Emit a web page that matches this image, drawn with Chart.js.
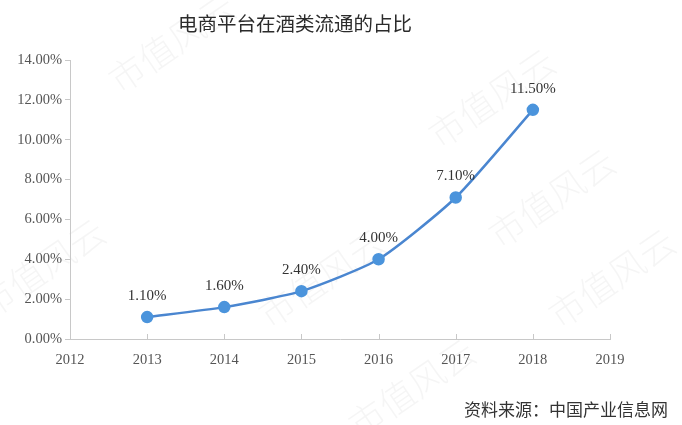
<!DOCTYPE html>
<html lang="zh">
<head>
    <meta charset="UTF-8">
    <title>电商平台在酒类流通的占比</title>
    <script src="https://cdn.jsdelivr.net/npm/chart.js"></script>
    <style>
        html, body { margin: 0; padding: 0; background: #fff; }
        .chart-container { position: relative; width: 682px; height: 425px; }
    </style>
</head>
<body>
    <div class="chart-container">
        <canvas id="shareChart"></canvas>
    </div>

    <script>
        const years = [2013, 2014, 2015, 2016, 2017, 2018];
        const shareValues = [1.1, 1.6, 2.4, 4.0, 7.1, 11.5];
        const titleText = '电商平台在酒类流通的占比';
        const sourceText = '资料来源：中国产业信息网';
        const watermarkText = '市值风云';

        const serif = '"Liberation Serif", "DejaVu Serif", serif';
        const cjk = '"Noto Sans CJK SC", sans-serif';

        // faint diagonal watermark, title and source note
        const decorPlugin = {
            id: 'decor',
            beforeDraw(chart) {
                const ctx = chart.ctx;
                ctx.save();
                ctx.font = '300 36px ' + cjk;
                ctx.fillStyle = 'rgba(0,0,0,0.04)';
                [[120, 95], [440, 150], [-10, 320], [270, 330], [500, 250], [560, 330], [360, 440]].forEach(p => {
                    ctx.save();
                    ctx.translate(p[0], p[1]);
                    ctx.rotate(-0.6);
                    ctx.fillText(watermarkText, 0, 0);
                    ctx.restore();
                });
                ctx.restore();
            },
            afterDraw(chart) {
                const ctx = chart.ctx;
                ctx.save();
                ctx.fillStyle = '#2b2b2b';
                ctx.font = '19.5px ' + cjk;
                ctx.textAlign = 'center';
                ctx.textBaseline = 'middle';
                ctx.fillText(titleText, 295, 24);
                ctx.fillStyle = '#333';
                ctx.font = '17px ' + cjk;
                ctx.textAlign = 'right';
                ctx.fillText(sourceText, 668, 410);

                // inward ticks on the x axis
                const x = chart.scales.x;
                ctx.strokeStyle = '#c8c8c8';
                ctx.lineWidth = 1;
                for (let v = 2013; v <= 2019; v++) {
                    const px = Math.round(x.getPixelForValue(v)) + 0.5;
                    ctx.beginPath();
                    ctx.moveTo(px, x.top);
                    ctx.lineTo(px, x.top - 5);
                    ctx.stroke();
                }

                // value labels above the points
                const meta = chart.getDatasetMeta(0);
                ctx.font = '15px ' + serif;
                ctx.fillStyle = '#333';
                ctx.textAlign = 'center';
                ctx.textBaseline = 'middle';
                meta.data.forEach((pt, i) => {
                    ctx.fillText(shareValues[i].toFixed(2) + '%', pt.x, pt.y - 21);
                });
                ctx.restore();
            }
        };

        new Chart(document.getElementById('shareChart'), {
            type: 'line',
            data: {
                datasets: [{
                    data: years.map((y, i) => ({ x: y, y: shareValues[i] })),
                    borderColor: '#4a86d0',
                    borderWidth: 2.5,
                    backgroundColor: '#4b94dc',
                    pointBackgroundColor: '#4b94dc',
                    pointBorderColor: '#4b94dc',
                    pointRadius: 5,
                    tension: 0.2,
                    fill: false
                }]
            },
            options: {
                responsive: true,
                maintainAspectRatio: false,
                animation: false,
                layout: { padding: { left: 0, right: 72, top: 60, bottom: 56 } },
                plugins: { legend: { display: false }, tooltip: { enabled: false } },
                scales: {
                    x: {
                        type: 'linear',
                        min: 2012,
                        max: 2019,
                        ticks: {
                            stepSize: 1,
                            color: '#555',
                            font: { family: serif, size: 14.5 },
                            padding: 12,
                            callback: v => String(v)
                        },
                        grid: { display: false, drawTicks: false },
                        border: { color: '#c8c8c8', width: 1 },
                        afterFit: s => { s.height = 30; }
                    },
                    y: {
                        min: 0,
                        max: 14,
                        ticks: {
                            stepSize: 2,
                            color: '#555',
                            font: { family: serif, size: 14.5 },
                            padding: 3,
                            callback: v => v.toFixed(2) + '%'
                        },
                        grid: { drawOnChartArea: false, tickLength: 5, color: '#c8c8c8' },
                        border: { color: '#c8c8c8', width: 1 },
                        afterFit: s => { s.width = 70; }
                    }
                }
            },
            plugins: [decorPlugin]
        });
    </script>
</body>
</html>
